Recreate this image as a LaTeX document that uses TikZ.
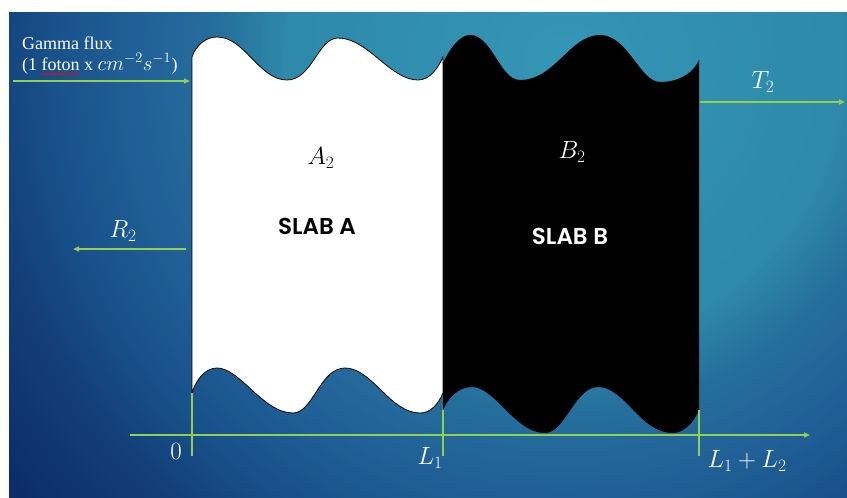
\documentclass[tikz,border=0pt]{standalone}
\usepackage{fontspec}
\setmainfont{Liberation Serif}
\newfontfamily\slabfont{Poppins}[BoldFont={Poppins SemiBold}]
\usetikzlibrary{arrows.meta,decorations.pathmorphing}
\definecolor{gr}{RGB}{146,208,80}
\definecolor{bgZ}{HTML}{0A2862}
\definecolor{bgY}{HTML}{0C2C68}
\definecolor{bgX}{HTML}{14407A}
\definecolor{bgW}{HTML}{18508A}
\definecolor{bgV}{HTML}{216198}
\definecolor{bgU}{HTML}{256F9C}
\definecolor{bgT}{HTML}{2E89AA}
\definecolor{bgS}{HTML}{3596B6}
% ring segment: outer radius, inner radius, outer colour, inner colour
\newcommand\bgseg[4]{%
  \foreach \k in {0,...,20}{%
    \pgfmathsetmacro\rr{#1-\k*(#1-#2)/20}%
    \pgfmathtruncatemacro\pp{5*\k}%
    \fill[#4!\pp!#3] (ctr) circle (\rr pt);
  }}
\tikzset{
  garrow/.style={draw=gr, line width=1.3pt, -{Triangle[length=6pt,width=5pt]}},
  gline/.style={draw=gr, line width=1.3pt},
  mlabel/.style={inner sep=0pt, font=\fontsize{24}{28}\selectfont},
  slabtext/.style={inner sep=0pt, font=\fontsize{23}{27}\selectfont\slabfont\bfseries},
  fluxtext/.style={inner sep=0pt, anchor=base west, text=white, font=\fontsize{18}{21}\selectfont},
  fluxmath/.style={inner sep=0pt, anchor=base west, text=white, font=\fontsize{19.5}{23}\selectfont}
}
\begin{document}
\begin{tikzpicture}[x=1pt,y=-1pt]
\useasboundingbox (0,0) rectangle (847,498);
\fill[white] (0,0) rectangle (847,498);
\coordinate (ctr) at (565,65);
\begin{scope}
  \clip (9,12) rectangle (847,498);
  \bgseg{820}{700}{bgZ}{bgY}
  \bgseg{700}{580}{bgY}{bgX}
  \bgseg{580}{520}{bgX}{bgW}
  \bgseg{520}{425}{bgW}{bgV}
  \bgseg{425}{350}{bgV}{bgU}
  \bgseg{350}{280}{bgU}{bgT}
  \bgseg{280}{1}{bgT}{bgS}
\end{scope}
% slab A
\path[fill=white, draw=black, line width=0.8pt]
  (192,57) .. controls (196,45) and (206,37) .. (217,37)
  .. controls (245,37) and (259,80) .. (287,80)
  .. controls (312,80) and (318,38) .. (338,38)
  .. controls (368,38) and (390,80) .. (418,80)
  .. controls (430,80) and (438,68) .. (443,57)
  -- (443,393)
  .. controls (438,405) and (430,413) .. (420,413)
  .. controls (390,413) and (372,368) .. (345,368)
  .. controls (320,368) and (313,413) .. (293,413)
  .. controls (263,413) and (240,368) .. (217,368)
  .. controls (205,368) and (196,380) .. (192,393)
  -- cycle;
% slab B
\path[fill=black]
  (443,63) .. controls (450,48) and (460,35) .. (470,35)
  .. controls (492,35) and (500,80) .. (520,80)
  .. controls (555,80) and (570,35) .. (600,35)
  .. controls (628,35) and (640,82) .. (660,82)
  .. controls (680,82) and (694,72) .. (699,60)
  -- (699,410)
  .. controls (694,422) and (684,433) .. (673,433)
  .. controls (640,433) and (625,387) .. (598,387)
  .. controls (575,387) and (565,433) .. (545,433)
  .. controls (515,433) and (495,387) .. (472,387)
  .. controls (458,387) and (448,398) .. (443,410)
  -- cycle;
% coordinates
\coordinate (inS) at (13,81);
\coordinate (inE) at (190,81);
\coordinate (rS) at (186,249);
\coordinate (rE) at (73,249);
\coordinate (tS) at (700,102);
\coordinate (tE) at (845,102);
\coordinate (axS) at (130,435);
\coordinate (axE) at (810,435);
\coordinate (t0a) at (192,393);
\coordinate (t0b) at (192,456);
\coordinate (t1a) at (443,410);
\coordinate (t1b) at (443,456);
\coordinate (t2a) at (699,410);
\coordinate (t2b) at (699,456);
\coordinate (ulS) at (41,74);
\coordinate (ulE) at (80,74);
% arrows
\draw[garrow] (inS) -- (inE);
\draw[garrow] (rS) -- (rE);
\draw[garrow] (tS) -- (tE);
\draw[garrow] (axS) -- (axE);
\draw[gline] (t0a) -- (t0b);
\draw[gline] (t1a) -- (t1b);
\draw[gline] (t2a) -- (t2b);
% labels
\node[fluxtext] (gf1) at (22,49) {Gamma flux};
\node[fluxtext] (gf2) at (22,70) {(1 foton x};
\node[fluxmath] (gf3) at ([xshift=4pt]gf2.base east) {$cm^{-2}s^{-1}$};
\node[fluxtext] (gf4) at (gf3.base east) {)};
\draw[red, line width=0.6pt, decorate, decoration={snake, amplitude=0.8pt, segment length=3pt}] (ulS) -- (ulE);
\node[mlabel, text=black] (a2) at (321,158) {$A_2$};
\node[mlabel, text=white] (b2) at (572,152) {$B_2$};
\node[slabtext, text=black] (sa) at (317,226) {SLAB A};
\node[slabtext, text=white] (sb) at (570,236) {SLAB B};
\node[mlabel, text=white] (r2) at (123,231) {$R_2$};
\node[mlabel, text=white] (t2) at (763,82) {$T_2$};
\node[mlabel, text=white] (z0) at (176,451) {$0$};
\node[mlabel, text=white] (l1) at (430,458) {$L_1$};
\node[mlabel, text=white] (l12) at (747,461) {$L_1+L_2$};
\end{tikzpicture}
\end{document}
